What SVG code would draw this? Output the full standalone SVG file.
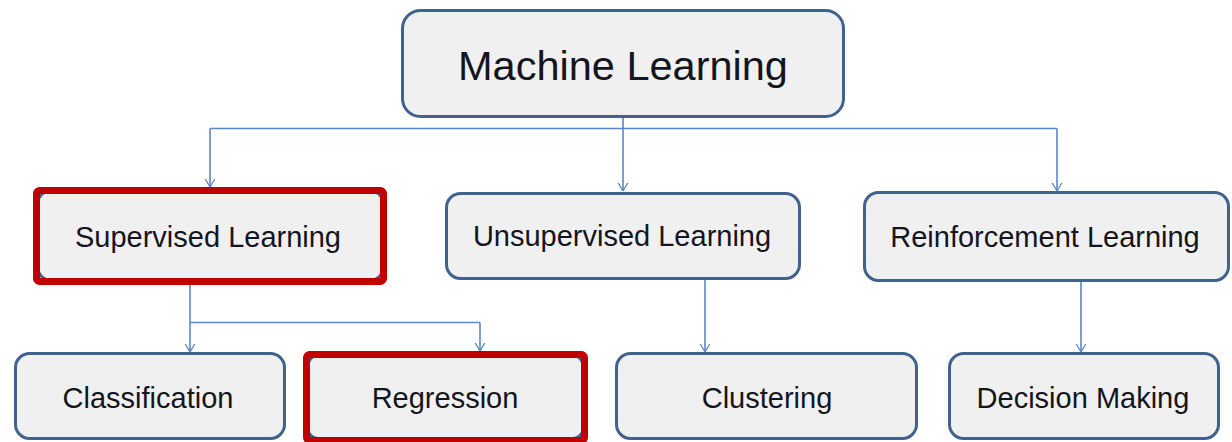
<svg xmlns="http://www.w3.org/2000/svg" width="1232" height="442" viewBox="0 0 1232 442">
<style>
.box{fill:#f0f0f0;stroke:#41628c;stroke-width:3}
.hl{fill:none;stroke:#c00000;stroke-width:7}
.lbl{font-family:"Liberation Sans",Arial,sans-serif;font-size:29px;fill:#151520;text-anchor:middle}
.big{font-size:41.5px}
.con{fill:none;stroke:#5b87c5;stroke-width:1.6}
</style>
<defs>
<marker id="arr" viewBox="0 0 10 12" refX="10" refY="6" markerWidth="8" markerHeight="12" markerUnits="userSpaceOnUse" orient="auto">
<path d="M0,0 L10,6 L0,12" fill="none" stroke="#5b87c5" stroke-width="1.6"/>
</marker>
</defs>
<g id="connectors">
<path class="con" d="M210,128.5 H1057"/>
<path class="con" d="M623,118 V191" marker-end="url(#arr)"/>
<path class="con" d="M210,128.5 V187" marker-end="url(#arr)"/>
<path class="con" d="M1057,128.5 V191" marker-end="url(#arr)"/>
<path class="con" d="M190,285 V322.5 H480"/>
<path class="con" d="M190,322.5 V352" marker-end="url(#arr)"/>
<path class="con" d="M480,322.5 V351" marker-end="url(#arr)"/>
<path class="con" d="M705,280 V352" marker-end="url(#arr)"/>
<path class="con" d="M1081,282 V352" marker-end="url(#arr)"/>
</g>
<g id="machine-learning">
<rect class="box" x="402.5" y="10.5" width="441" height="106" rx="18"/>
<text class="lbl big" x="623" y="80">Machine Learning</text>
</g>
<g id="supervised">
<rect class="box" x="38" y="191" width="345" height="89" rx="12"/>
<rect class="hl" x="36.5" y="190.5" width="347" height="91" rx="3"/>
<text class="lbl" x="208" y="247">Supervised Learning</text>
</g>
<g id="unsupervised">
<rect class="box" x="446.5" y="193.5" width="353" height="85" rx="14"/>
<text class="lbl" x="622" y="246">Unsupervised Learning</text>
</g>
<g id="reinforcement">
<rect class="box" x="864.5" y="192.5" width="364" height="88" rx="14"/>
<text class="lbl" x="1045" y="247">Reinforcement Learning</text>
</g>
<g id="classification">
<rect class="box" x="15.5" y="353.5" width="269" height="85" rx="14"/>
<text class="lbl" x="148" y="408">Classification</text>
</g>
<g id="regression">
<rect class="box" x="308" y="355.5" width="275" height="83" rx="10"/>
<rect class="hl" x="306.5" y="354.5" width="278" height="86" rx="3"/>
<text class="lbl" x="445" y="408">Regression</text>
</g>
<g id="clustering">
<rect class="box" x="616.5" y="353.5" width="300" height="85" rx="14"/>
<text class="lbl" x="767" y="408">Clustering</text>
</g>
<g id="decision-making">
<rect class="box" x="949.5" y="353.5" width="269" height="85" rx="14"/>
<text class="lbl" x="1083" y="408">Decision Making</text>
</g>
</svg>
